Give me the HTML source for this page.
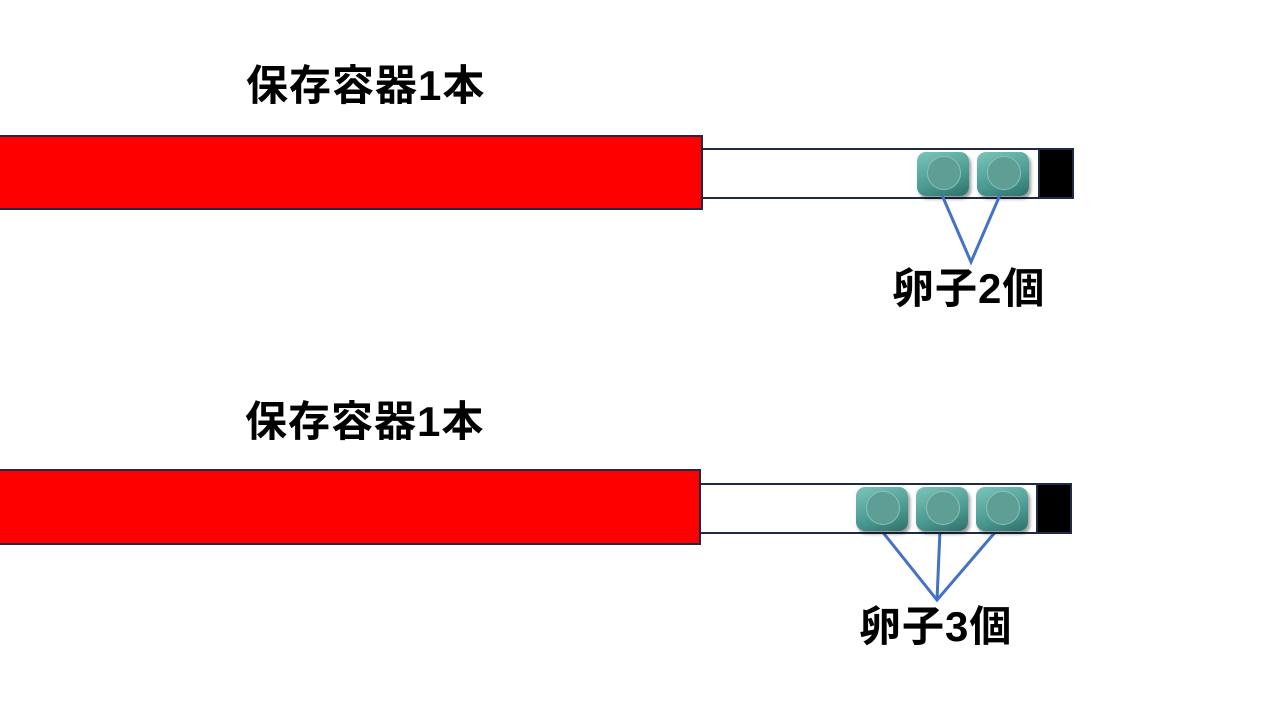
<!DOCTYPE html>
<html><head><meta charset="utf-8"><style>
body{margin:0;width:1280px;height:720px;background:#fff;position:relative;overflow:hidden;font-family:"Liberation Sans","Noto Sans CJK JP",sans-serif}
.t{position:absolute;font-weight:bold;font-size:42px;color:#000;white-space:nowrap;line-height:1;letter-spacing:1px}
.r{position:absolute;background:#f00;border:2px solid #1f2a44;box-sizing:border-box}
.w{position:absolute;background:#fff;border:2px solid #1f2a44;box-sizing:border-box}
.b{position:absolute;background:#000;border:2px solid #1f2a44;box-sizing:border-box}
.e{position:absolute;width:52px;height:44px;border-radius:9px;background:linear-gradient(160deg,#7cc4bb,#4a9a92 60%,#2f6f69);box-shadow:2px 3px 3px rgba(0,0,0,.4)}
.e::after{content:"";position:absolute;left:10px;top:4px;width:32px;height:32px;border-radius:50%;background:#5e9e94;border:1px solid #88c2b8}
</style></head><body>
<div class="t" style="left:246px;top:65px">保存容器1本</div>
<div class="r" style="left:-2px;top:135px;width:705px;height:75px"></div>
<div class="w" style="left:701px;top:148px;width:340px;height:51px"></div>
<div class="b" style="left:1038px;top:148px;width:36px;height:51px"></div>
<div class="e" style="left:917px;top:152px"></div>
<div class="e" style="left:977px;top:152px"></div>
<svg style="position:absolute;left:0;top:0" width="1280" height="720">
<polyline points="942,195 971,262 1000,195" fill="none" stroke="#4472c4" stroke-width="3"/>
<polyline points="881,530 937,600 997,530" fill="none" stroke="#4472c4" stroke-width="3"/>
<line x1="940" y1="530" x2="937" y2="600" stroke="#4472c4" stroke-width="3"/>
</svg>
<div class="t" style="left:892px;top:268px">卵子2個</div>
<div class="t" style="left:245px;top:401px">保存容器1本</div>
<div class="r" style="left:-2px;top:469px;width:703px;height:76px"></div>
<div class="w" style="left:699px;top:483px;width:340px;height:51px"></div>
<div class="b" style="left:1036px;top:483px;width:36px;height:51px"></div>
<div class="e" style="left:856px;top:487px"></div>
<div class="e" style="left:916px;top:487px"></div>
<div class="e" style="left:976px;top:487px"></div>
<div class="t" style="left:859px;top:606px">卵子3個</div>
</body></html>
